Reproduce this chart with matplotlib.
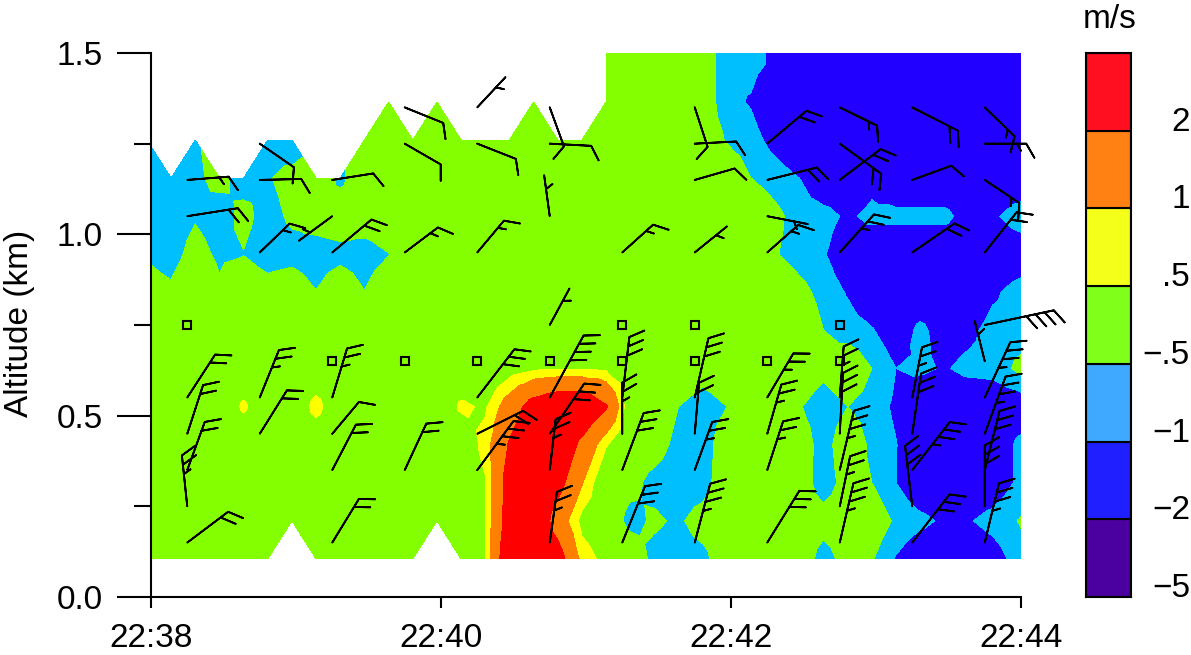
import numpy as np
import matplotlib
matplotlib.use("Agg")
import matplotlib.pyplot as plt
import matplotlib.tri as mtri

plt.rcParams['font.family'] = ['Liberation Sans', 'DejaVu Sans']

N = np.nan

# vertical velocity (m/s), one list per height, 37 profiles in time
alt_km = [0.105, 0.21, 0.315, 0.42, 0.525, 0.63, 0.735, 0.84, 0.945, 1.05, 1.155, 1.26, 1.365, 1.47, 1.5]

w_0105 = [0, 0, 0, 0, 0, 0, N, 0, 0, 0, 0, 0, N, 0, 0.5, 3, 3, 2.5, 0.8, 0.3, 0, -0.7, -0.8, -0.7, 0, 0, 0, 0,
          -0.8, -0.2, -0.45, -1.05, -1.5, -1.5, -1.5, -1.3, -0.7]
w_0210 = [0, 0, 0, 0, 0, 0, 0, 0, 0, 0, 0, 0, 0, 0, 0.45, 2.6, 3, 1.5, 0.3, 0, -0.7, -0.4, -0.6, -0.2, 0, 0, 0, 0,
          -0.2, 0, -0.1, -0.6, -0.85, -1.1, -1.05, -0.8, -0.45]
w_0315 = [0, 0, 0, 0, 0, 0, 0, 0, 0, 0, 0, 0, 0, 0, 0.45, 2.5, 3, 2.4, 1.05, -0.1, -0.3, -0.7, -0.9, -0.8, 0, 0, 0,
          -0.1, -0.85, -0.2, -0.5, -1.0, -1.5, -1.5, -1.5, -1.4, -0.85]
w_0420 = [0, 0, 0, 0, 0, 0, 0, 0, 0, 0, 0, 0, 0, 0, 0.7, 2.1, 3, 3, 1.75, 0.55, -0.1, -0.2, -0.7, -0.9, 0, 0, 0,
          -0.1, -0.8, 0, -0.65, -0.98, -1.5, -1.5, -1.5, -1.4, -0.85]
w_0525 = [0, 0, 0, 0, 0.6, 0, 0, 0.7, 0, 0, 0, 0, 0, 0.6, 0.42, 1.4, 2.5, 3, 3, 2.1, 0, 0, -0.5, -0.8, -0.5, 0, 0,
          -0.45, -0.85, -0.5, -0.75, -1.1, -1.5, -1.5, -1.5, -1.5, -1.4]
w_0630 = [0, 0, 0, 0, 0, 0, 0, 0, 0, 0, 0, 0, 0, 0, 0, 0.2, 0.4, 0.45, 0.45, 0.4, 0, 0, 0, -0.2, 0, 0, 0, 0,
          -0.3, 0, -0.5, -1.0, -0.9, -1.05, -0.85, -0.8, -0.35]
w_0735 = [0, 0, 0, 0, 0, 0, 0, 0, 0, 0, 0, 0, 0, 0, 0, 0, 0, 0, 0, 0, 0, 0, 0, 0, 0, 0, 0, 0,
          -0.5, -0.75, -0.95, -1.4, -0.85, -1.3, -1.15, -0.8, -0.75]
w_0840 = [-0.3, -0.4, 0, -0.4, 0, -0.2, -0.1, -0.48, 0, -0.48, 0, 0, 0, 0, 0, 0, 0, 0, 0, 0, 0, 0, 0, 0, 0, 0, 0,
          -0.3, -0.7, -1.05, -1.5, -1.5, -1.5, -1.5, -1.5, -1.1, -0.75]
w_0945 = [-0.55, -0.7, -0.3, -0.6, -0.52, -0.8, -0.7, -0.8, -0.7, -0.8, -0.52, 0, 0, 0, 0, 0, 0, 0, 0, 0, 0, 0, 0, 0, 0, 0,
          -0.45, -0.75, -0.95, -1.4, -1.5, -1.5, -1.5, -1.5, -1.5, -1.5, -1.4]
w_1050 = [-0.8, -0.8, -0.55, -0.75, -0.35, -0.7, -0.4, -0.2, -0.1, -0.1, 0, 0, 0, 0, 0, 0, 0, 0, 0, 0, 0, 0, 0, 0, 0, 0,
          -0.35, -0.75, -0.8, -1.1, -0.85, -0.85, -0.85, -0.85, -1.25, -1.1, -0.7]
w_1155 = [-0.7, -0.7, -0.6, -0.35, -0.7, -0.55, -0.3, 0, -0.65, 0, 0, 0, 0, 0, 0, 0, 0, 0, 0, 0, 0, 0, 0, 0, 0,
          -0.5, -0.75, -1.0, -1.5, -1.5, -1.2, -1.5, -1.5, -1.5, -1.5, -1.5, -1.5]
w_1260 = [-0.7, N, -0.55, N, N, -0.7, -0.9, N, N, 0, 0, 0, 0, 0, 0, 0, 0, 0, 0, 0, 0, 0, 0, -0.1, -0.55, -0.8, -1.2,
          -1.5, -1.5, -1.5, -1.5, -1.5, -1.5, -1.5, -1.5, -1.5, -1.5]
w_1365 = [N, N, N, N, N, N, N, N, N, N, 0, N, 0, N, N, N, 0, N, N, 0, 0, 0, 0, -0.1, -0.85, -1.05, -1.5,
          -1.5, -1.5, -1.5, -1.5, -1.5, -1.5, -1.5, -1.5, -1.5, -1.5]
w_1470 = [N, N, N, N, N, N, N, N, N, N, N, N, N, N, N, N, N, N, N, 0, 0, 0, 0, -0.1, -0.85, -0.85, -1.1,
          -1.5, -1.5, -1.5, -1.5, -1.5, -1.5, -1.5, -1.5, -1.5, -1.5]
w_1500 = [N, N, N, N, N, N, N, N, N, N, N, N, N, N, N, N, N, N, N, 0, 0, 0, 0, -0.1, -0.85, -0.85, -1.1,
          -1.5, -1.5, -1.5, -1.5, -1.5, -1.5, -1.5, -1.5, -1.5, -1.5]

w_rows = [w_0105, w_0210, w_0315, w_0420, w_0525, w_0630, w_0735, w_0840, w_0945, w_1050, w_1155, w_1260,
          w_1365, w_1470, w_1500]

# winds: minutes after 22:38, altitude, direction of the staff (deg), speed
barb_time = [0.25] * 7 + [0.75] * 5 + [1.25] * 7 + [1.75] * 4 + [2.25] * 6 + [2.75] * 8 + [3.25] * 5 \
    + [3.75] * 8 + [4.25] * 8 + [4.75] * 9 + [5.25] * 8 + [5.75] * 11
barb_alt = [0.15, 0.25, 0.35, 0.45, 0.55, 1.05, 1.15,
            0.45, 0.55, 0.95, 1.15, 1.25,
            0.15, 0.35, 0.45, 0.55, 0.95, 1.05, 1.15,
            0.35, 0.95, 1.25, 1.35,
            0.35, 0.45, 0.55, 0.95, 1.25, 1.35,
            0.15, 0.35, 0.45, 0.55, 0.75, 1.05, 1.25, 1.35,
            0.15, 0.35, 0.45, 0.55, 0.95,
            0.15, 0.35, 0.45, 0.55, 0.95, 1.15, 1.25, 1.35,
            0.15, 0.35, 0.45, 0.55, 0.95, 1.05, 1.15, 1.25,
            0.15, 0.25, 0.35, 0.45, 0.55, 0.95, 1.15, 1.25, 1.35,
            0.15, 0.25, 0.35, 0.45, 0.55, 0.95, 1.15, 1.35,
            0.15, 0.25, 0.35, 0.45, 0.55, 0.65, 0.75, 0.95, 1.15, 1.25, 1.35]
barb_dir = [53, -6, 20, 18, 33, 81, 85.5,
            32, 22, 46, 88.7, 124.6,
            31.4, 27.5, 40, 16.8, 50, 233.7, 81,
            24.9, 53, 120, 112,
            36.5, 63.4, 37.6, 40, 111.5, 43,
            8, 6.6, 34.5, 28.6, 28.4, -7.8, 93, 160,
            22, 20.6, 0, 6.7, 48,
            14.7, 20, 4.8, 13, 51, 74, 87, 162,
            31.8, 18, 16, 30.6, 48.5, 101, 76, 50,
            13, 11.7, 13.4, 3, 4.4, 42, 53, 126, 116,
            37.7, -6.8, 38, 8.3, 11, 55.5, 70, 117,
            13.5, 0, 14, 20, 24.8, -14, 78, 38.4, 123.7, 90, 134]
barb_speed = [20, 25, 20, 20, 20, 20, 15,
              20, 25, 15, 10, 10,
              20, 20, 10, 25, 20, 5, 10,
              20, 15, 10, 10,
              35, 20, 30, 15, 10, 5,
              25, 25, 30, 40, 5, 5, 10, 10,
              30, 30, 25, 30, 15,
              35, 25, 20, 30, 5, 10, 10, 10,
              30, 25, 25, 25, 15, 5, 20, 20,
              35, 25, 35, 30, 25, 25, 20, 20, 15,
              30, 30, 35, 30, 25, 20, 10, 20,
              35, 30, 30, 35, 35, 5, 40, 20, 15, 15, 15]

calm_time = [0.25, 1.25, 1.75, 2.25, 2.75, 3.25, 3.25, 3.75, 3.75, 4.25, 4.75, 4.75]
calm_alt = [0.75, 0.65, 0.65, 0.65, 0.65, 0.65, 0.75, 0.65, 0.75, 0.65, 0.65, 0.75]

levels = [-5, -2, -1, -0.5, 0.5, 1, 2, 5]
map_colors = ['#4B00A0', '#2200FF', '#00BFFF', '#84FF00', '#FFFF00', '#FF8000', '#FF0000']
bar_colors = ['#4B00A0', '#1F1FFF', '#3FA9FF', '#80FF1A', '#F4FF1A', '#FF8013', '#FF0F20']
bar_labels = ['\u22125', '\u22122', '\u22121', '\u2212.5', '.5', '1', '2']

fig = plt.figure(figsize=(11.91, 6.55), dpi=100)
W, H = 1191.0, 655.0
ax = fig.add_axes([151 / W, 1 - 597 / H, 870 / W, 544 / H])

# profile times, the first one falls just before the axis
t_min = np.arange(37) / 6 - 0.028
t_min[-1] = 6.0

w = np.array(w_rows, dtype=float)
alt = np.array(alt_km)
nr, nc = w.shape

# triangles by hand: cross each full cell through its middle, a cell with
# one missing corner keeps the other three
px = list(np.tile(t_min, nr))
py = list(np.repeat(alt, nc))
pz = list(w.ravel())
tris = []
for r in range(nr - 1):
    for c in range(nc - 1):
        corners = [r * nc + c, r * nc + c + 1, (r + 1) * nc + c + 1, (r + 1) * nc + c]
        good = [i for i in corners if not np.isnan(pz[i])]
        if len(good) == 3:
            tris.append(good)
        elif len(good) == 4:
            m = len(px)
            px.append(np.mean([px[i] for i in corners]))
            py.append(np.mean([py[i] for i in corners]))
            pz.append(np.mean([pz[i] for i in corners]))
            for k in range(4):
                tris.append([corners[k], corners[(k + 1) % 4], m])
pz = np.array(pz)
pz[np.isnan(pz)] = 0
ax.tricontourf(mtri.Triangulation(px, py, triangles=tris), pz, levels=levels, colors=map_colors,
               antialiased=False, zorder=1)

# barb staff gets longer with the number of full feathers
b_t = np.array(barb_time)
b_a = np.array(barb_alt)
speed = np.array(barb_speed, dtype=float)
rad = np.radians(barb_dir)
u, v = -speed * np.sin(rad), -speed * np.cos(rad)
n_full = np.maximum(speed // 10, 1)
for n in np.unique(n_full):
    L = 41.5 + 9.7 * (n - 1)
    s = n_full == n
    # drawn staff in pixels is length**2 / 2 * dpi / 72
    ax.barbs(b_t[s], b_a[s], u[s], v[s], pivot='tip',
             length=np.sqrt(1.44 * L), linewidth=1.3, color='k', clip_on=False, zorder=4,
             sizes=dict(spacing=9.4 / L, height=14.1 / L, width=16.3 / L))

ax.plot(calm_time, calm_alt, ls='none', marker='s', ms=5.5, mfc='none', mec='k', mew=1.5, zorder=4)

ax.set_xlim(0, 6)
ax.set_ylim(0, 1.5)
for side in ['top', 'right']:
    ax.spines[side].set_visible(False)
for side in ['left', 'bottom']:
    ax.spines[side].set_linewidth(1.5)

ax.set_xticks([0, 2, 4, 6])
ax.set_xticklabels(['22:38', '22:40', '22:42', '22:44'])
ax.set_yticks([0, 0.5, 1.0, 1.5])
ax.set_yticklabels(['0.0', '0.5', '1.0', '1.5'])
ax.set_yticks([0.25, 0.75, 1.25], minor=True)
ax.tick_params(axis='x', length=8, width=1.5, labelsize=24, pad=11)
ax.tick_params(axis='y', which='major', length=24.5, width=1.5, labelsize=24, pad=10)
ax.tick_params(axis='y', which='minor', length=12.2, width=1.5)
fig.text(20 / W, 1 - 323 / H, 'Altitude (km)', rotation=90, fontsize=24, ha='center', va='center')

# color key
cax = fig.add_axes([1086 / W, 1 - 597 / H, 45 / W, 544 / H])
cax.bar(np.zeros(7), np.ones(7), width=1, bottom=np.arange(7), color=bar_colors, edgecolor='k', linewidth=1.5)
cax.set_xlim(-0.5, 0.5)
cax.set_ylim(0, 7)
cax.set_xticks([])
cax.set_yticks(np.arange(7) + 0.155)
cax.set_yticklabels(bar_labels, ha='right')
cax.yaxis.tick_right()
cax.tick_params(axis='y', length=0, labelsize=24, pad=42.5)
for sp in cax.spines.values():
    sp.set_linewidth(1.5)
fig.text(1110 / W, 1 - 19 / H, 'm/s', fontsize=24, ha='center', va='center')

fig.savefig('out.png', dpi=100)
